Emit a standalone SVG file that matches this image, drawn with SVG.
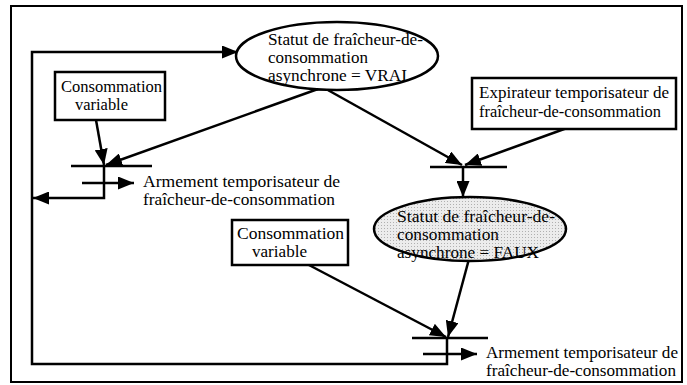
<svg xmlns="http://www.w3.org/2000/svg" width="687" height="385" viewBox="0 0 687 385">
<style>
.t{font-family:"Liberation Serif","Times New Roman",serif;font-size:16px;fill:#000}
.ln{fill:none;stroke:#000;stroke-width:2.5}
.bar{fill:none;stroke:#000;stroke-width:2.5}
.box{fill:#fff;stroke:#000;stroke-width:2.5}
</style>
<defs>
<marker id="ah" markerUnits="userSpaceOnUse" markerWidth="17" markerHeight="13" refX="16" refY="6.5" orient="auto">
<path d="M0,0 L16,6.5 L0,13 z" fill="#000"/>
</marker>
<pattern id="dots" width="3" height="3" patternUnits="userSpaceOnUse">
<rect width="3" height="3" fill="#ececec"/>
<rect width="1" height="1" fill="#b0b0b0"/>
</pattern>
</defs>
<rect x="11" y="6" width="671" height="376" fill="#fff" stroke="#000" stroke-width="2"/>
<g id="connectors">
<path class="ln" d="M447,338 L447,364 L32,364 L32,52 L238,52" marker-end="url(#ah)"/>
<path class="ln" d="M104,166 L104,198 L33,198" marker-end="url(#ah)"/>
<path class="ln" d="M82,183 L134,183" marker-end="url(#ah)"/>
<path class="ln" d="M96,120 L104,165" marker-end="url(#ah)"/>
<path class="ln" d="M318,89 L106,165" marker-end="url(#ah)"/>
<path class="ln" d="M326,89 L462,165" marker-end="url(#ah)"/>
<path class="ln" d="M567,128 L465,165" marker-end="url(#ah)"/>
<path class="ln" d="M463,167 L463,197" marker-end="url(#ah)"/>
<path class="ln" d="M307,264 L446,337" marker-end="url(#ah)"/>
<path class="ln" d="M469,259 L448,337" marker-end="url(#ah)"/>
<path class="ln" d="M423,354 L477,354" marker-end="url(#ah)"/>
</g>
<g id="ellipse-vrai">
<ellipse cx="337" cy="56" rx="101" ry="34" fill="#fff" stroke="#000" stroke-width="2.5"/>
<text class="t" x="268" y="45" textLength="155" lengthAdjust="spacingAndGlyphs">Statut de fraîcheur-de-</text>
<text class="t" x="268" y="63" textLength="100" lengthAdjust="spacingAndGlyphs">consommation</text>
<text class="t" x="268" y="81" textLength="139" lengthAdjust="spacingAndGlyphs">asynchrone = VRAI</text>
</g>
<g id="box-conso-1">
<rect class="box" x="55" y="72" width="110" height="48"/>
<text class="t" x="61" y="92" textLength="101" lengthAdjust="spacingAndGlyphs">Consommation</text>
<text class="t" x="75" y="110" textLength="53" lengthAdjust="spacingAndGlyphs">variable</text>
</g>
<g id="transition-1">
<line class="bar" x1="71" y1="166" x2="152" y2="166"/>
<text class="t" x="143" y="187" textLength="197" lengthAdjust="spacingAndGlyphs">Armement temporisateur de</text>
<text class="t" x="143" y="205" textLength="192" lengthAdjust="spacingAndGlyphs">fraîcheur-de-consommation</text>
</g>
<g id="box-expirateur">
<rect class="box" x="472" y="78" width="204" height="51"/>
<text class="t" x="479" y="98" textLength="190" lengthAdjust="spacingAndGlyphs">Expirateur temporisateur de</text>
<text class="t" x="479" y="117" textLength="182" lengthAdjust="spacingAndGlyphs">fraîcheur-de-consommation</text>
</g>
<g id="transition-2">
<line class="bar" x1="430" y1="167" x2="507" y2="167"/>
</g>
<g id="ellipse-faux">
<ellipse cx="470" cy="229" rx="96" ry="32" fill="url(#dots)" stroke="#000" stroke-width="2.5"/>
<text class="t" x="397" y="222" textLength="158" lengthAdjust="spacingAndGlyphs">Statut de fraîcheur-de-</text>
<text class="t" x="397" y="240" textLength="102" lengthAdjust="spacingAndGlyphs">consommation</text>
<text class="t" x="397" y="258" textLength="142" lengthAdjust="spacingAndGlyphs">asynchrone = FAUX</text>
</g>
<g id="box-conso-2">
<rect class="box" x="232" y="220" width="116" height="45"/>
<text class="t" x="237" y="239" textLength="107" lengthAdjust="spacingAndGlyphs">Consommation</text>
<text class="t" x="252" y="257" textLength="55" lengthAdjust="spacingAndGlyphs">variable</text>
</g>
<g id="transition-3">
<line class="bar" x1="412" y1="338" x2="488" y2="338"/>
<text class="t" x="486" y="358" textLength="192" lengthAdjust="spacingAndGlyphs">Armement temporisateur de</text>
<text class="t" x="486" y="376" textLength="190" lengthAdjust="spacingAndGlyphs">fraîcheur-de-consommation</text>
</g>
</svg>
